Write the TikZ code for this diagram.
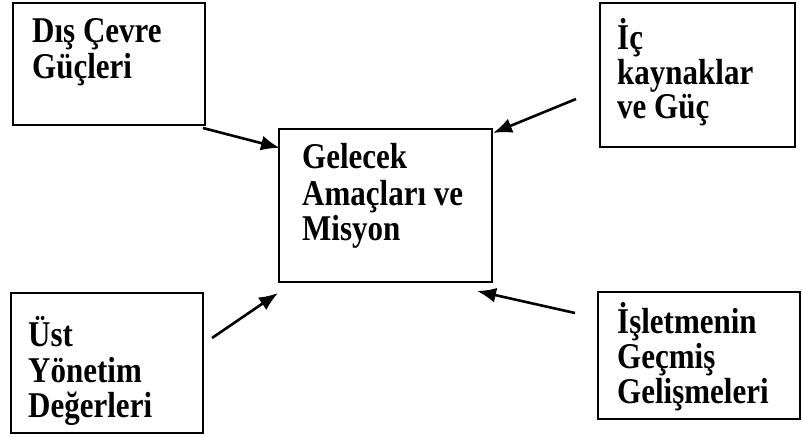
\documentclass[tikz,border=0pt]{standalone}
\usepackage{fontspec}
\setmainfont{Liberation Serif}
\usetikzlibrary{arrows.meta}
% labels are set slightly taller than the font's natural proportions
\newcommand\tallword[1]{\scalebox{1}[1.17]{#1}}
\begin{document}
\begin{tikzpicture}[x=1pt,y=-1pt,
  panel/.style={draw, line width=1.8pt, inner sep=0pt, anchor=north west},
  lbl/.style={anchor=base west, inner sep=0pt, font=\fontsize{31}{36}\selectfont\bfseries},
  link/.style={line width=2.6pt, -{Latex[length=19pt,width=15pt]}}]
\useasboundingbox (0,0) rectangle (802,436);

% boxes
\node[panel, minimum width=192pt, minimum height=122pt] (dis) at (12,2) {};
\node[panel, minimum width=195pt, minimum height=144pt] (ic) at (599,2) {};
\node[panel, minimum width=213pt, minimum height=153pt] (amac) at (278,128) {};
\node[panel, minimum width=192pt, minimum height=140pt] (ust) at (10,292) {};
\node[panel, minimum width=202pt, minimum height=127pt] (gecmis) at (597,291) {};

% labels
\node[lbl] (dis1) at (32,42) {\tallword{Dış Çevre}};
\node[lbl] (dis2) at (32,78) {\tallword{Güçleri}};

\node[lbl] (ic1) at (617,49) {\tallword{İç}};
\node[lbl] (ic2) at (617,84) {\tallword{kaynaklar}};
\node[lbl] (ic3) at (617,118) {\tallword{ve Güç}};

\node[lbl] (amac1) at (302,168) {\tallword{Gelecek}};
\node[lbl] (amac2) at (302,205) {\tallword{Amaçları ve}};
\node[lbl] (amac3) at (302,240) {\tallword{Misyon}};

\node[lbl] (ust1) at (28,346) {\tallword{Üst}};
\node[lbl] (ust2) at (28,382) {\tallword{Yönetim}};
\node[lbl] (ust3) at (28,417) {\tallword{Değerleri}};

\node[lbl] (gecmis1) at (617,333) {\tallword{İşletmenin}};
\node[lbl] (gecmis2) at (617,368) {\tallword{Geçmiş}};
\node[lbl] (gecmis3) at (617,403) {\tallword{Gelişmeleri}};

% arrow ends
\coordinate (disOut) at (203,128);
\coordinate (disIn) at (280,148);
\coordinate (icOut) at (576,99);
\coordinate (icIn) at (493,133);
\coordinate (ustOut) at (212,338);
\coordinate (ustIn) at (278,293);
\coordinate (gecmisOut) at (575,313);
\coordinate (gecmisIn) at (477,291);

% arrows
\draw[link] (disOut) -- (disIn);
\draw[link] (icOut) -- (icIn);
\draw[link] (ustOut) -- (ustIn);
\draw[link] (gecmisOut) -- (gecmisIn);
\end{tikzpicture}
\end{document}
